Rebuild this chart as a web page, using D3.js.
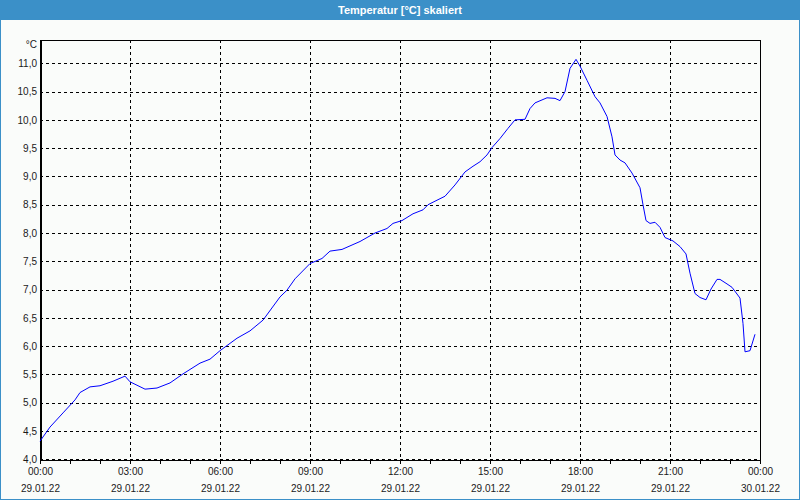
<!DOCTYPE html>
<html><head><meta charset="utf-8">
<script src="https://cdn.jsdelivr.net/npm/d3@7"></script>
<style>
html,body{margin:0;padding:0;background:#fafcfa;}
svg{display:block;}
</style></head>
<body>
<svg id="chart" width="800" height="500"></svg>
<script>
const title = "Temperatur [°C] skaliert";
const unitLabel = "°C";
const minutes = [0,20,46,70,80,100,120,146,170,180,210,234,260,286,320,340,360,394,420,446,480,494,510,540,564,580,604,640,670,694,706,724,746,766,776,794,810,830,850,866,880,894,904,920,936,950,970,980,990,1014,1030,1040,1050,1060,1072,1080,1094,1110,1120,1134,1144,1150,1160,1170,1184,1200,1206,1212,1220,1230,1240,1250,1266,1280,1292,1300,1310,1320,1332,1342,1354,1360,1374,1384,1400,1406,1410,1420,1430];
const temps = [4.32,4.57,4.82,5.05,5.18,5.28,5.30,5.38,5.47,5.37,5.24,5.26,5.35,5.51,5.70,5.77,5.92,6.14,6.27,6.46,6.87,6.99,7.19,7.46,7.55,7.68,7.71,7.85,8.00,8.08,8.17,8.22,8.34,8.41,8.50,8.58,8.65,8.85,9.08,9.18,9.26,9.38,9.51,9.67,9.85,10.0,10.01,10.2,10.30,10.39,10.38,10.34,10.50,10.91,11.07,10.95,10.70,10.41,10.30,10.06,9.70,9.38,9.29,9.24,9.06,8.80,8.50,8.22,8.17,8.19,8.10,7.92,7.86,7.76,7.63,7.29,6.93,6.86,6.82,7.01,7.18,7.18,7.10,7.04,6.85,6.40,5.90,5.92,6.21];
const yTicks = [4.0,4.5,5.0,5.5,6.0,6.5,7.0,7.5,8.0,8.5,9.0,9.5,10.0,10.5,11.0];
const xStart = new Date(2022,0,29,0,0);
const xEnd = new Date(2022,0,30,0,0);

const svg = d3.select("#chart");
const W = 800, H = 500;
const m = {left:40, right:40, top:40, bottom:40};
const pw = W - m.left - m.right, ph = H - m.top - m.bottom;

// title bar
svg.append("rect").attr("x",0).attr("y",0).attr("width",W).attr("height",20).attr("fill","#3b90c8");
svg.append("text").attr("x",W/2).attr("y",14).attr("text-anchor","middle")
  .attr("font-family","Liberation Sans, Arial, sans-serif").attr("font-size",11).attr("font-weight","bold")
  .attr("fill","#ffffff").text(title);
// outer border
svg.append("rect").attr("x",0.5).attr("y",0.5).attr("width",W-1).attr("height",H-1)
  .attr("fill","none").attr("stroke","#3b90c8").attr("stroke-width",1);

const x = d3.scaleTime().domain([xStart,xEnd]).range([m.left, m.left+pw]);
const y = d3.scaleLinear().domain([4.0, 11.0]).range([459.3, 63.3]);

const data = minutes.map((mm,i)=>({t:new Date(2022,0,29,0,mm), v:temps[i]}));

const font = "Liberation Sans, Arial, sans-serif";

// horizontal grid
const gy = svg.append("g").attr("transform",`translate(${m.left},0)`)
  .call(d3.axisLeft(y).tickValues(yTicks).tickSize(-pw).tickPadding(3)
    .tickFormat(d=>d3.format(".1f")(d).replace(".",",")));
gy.select(".domain").remove();
gy.selectAll("line").attr("stroke","#000").attr("stroke-dasharray","3,3").attr("shape-rendering","crispEdges");
gy.selectAll("text").attr("font-family",font).attr("font-size",10).attr("fill","#1a1a1a");

// vertical grid every 3h
const gridTimes = d3.timeHour.every(3).range(new Date(2022,0,29,3), xEnd);
svg.append("g").selectAll("line").data(gridTimes).join("line")
  .attr("x1",d=>Math.round(x(d))+0.5).attr("x2",d=>Math.round(x(d))+0.5)
  .attr("y1",m.top).attr("y2",m.top+ph)
  .attr("stroke","#000").attr("stroke-dasharray","3,3");

// minor ticks every hour
const gm = svg.append("g").attr("transform",`translate(0,${m.top+ph})`)
  .call(d3.axisBottom(x).ticks(d3.timeHour.every(1)).tickSize(4).tickFormat(""));
gm.select(".domain").remove();
gm.selectAll("line").attr("stroke","#000");

// major labels
const majors = d3.timeHour.every(3).range(xStart, new Date(2022,0,30,0,1));
const gx = svg.append("g").attr("transform",`translate(0,${m.top+ph})`)
  .call(d3.axisBottom(x).tickValues(majors).tickSize(4).tickPadding(4).tickFormat(d3.timeFormat("%H:%M")));
gx.select(".domain").remove();
gx.selectAll("text").attr("font-family",font).attr("font-size",10).attr("fill","#1a1a1a");
gx.selectAll(".tick").append("text").attr("y",32).attr("text-anchor","middle")
  .attr("font-family",font).attr("font-size",10).attr("fill","#1a1a1a")
  .text(d=>d3.timeFormat("%d.%m.%y")(d));

// plot frame
svg.append("rect").attr("x",m.left+0.5).attr("y",m.top+0.5).attr("width",pw).attr("height",ph)
  .attr("fill","none").attr("stroke","#000").attr("stroke-width",1);
// heavier left and bottom axis lines
svg.append("line").attr("x1",m.left+1).attr("x2",m.left+1).attr("y1",m.top).attr("y2",m.top+ph+1)
  .attr("stroke","#000").attr("stroke-width",2);
svg.append("line").attr("x1",m.left).attr("x2",m.left+pw+1).attr("y1",m.top+ph+0.5).attr("y2",m.top+ph+0.5)
  .attr("stroke","#000").attr("stroke-width",1);

// unit label
svg.append("text").attr("x",37).attr("y",48).attr("text-anchor","end")
  .attr("font-family",font).attr("font-size",10).attr("fill","#1a1a1a").text(unitLabel);

// line
svg.append("path").datum(data)
  .attr("d", d3.line().x(d=>x(d.t)).y(d=>y(d.v)))
  .attr("fill","none").attr("stroke","#0000ff").attr("stroke-width",1);
</script>
</body></html>
